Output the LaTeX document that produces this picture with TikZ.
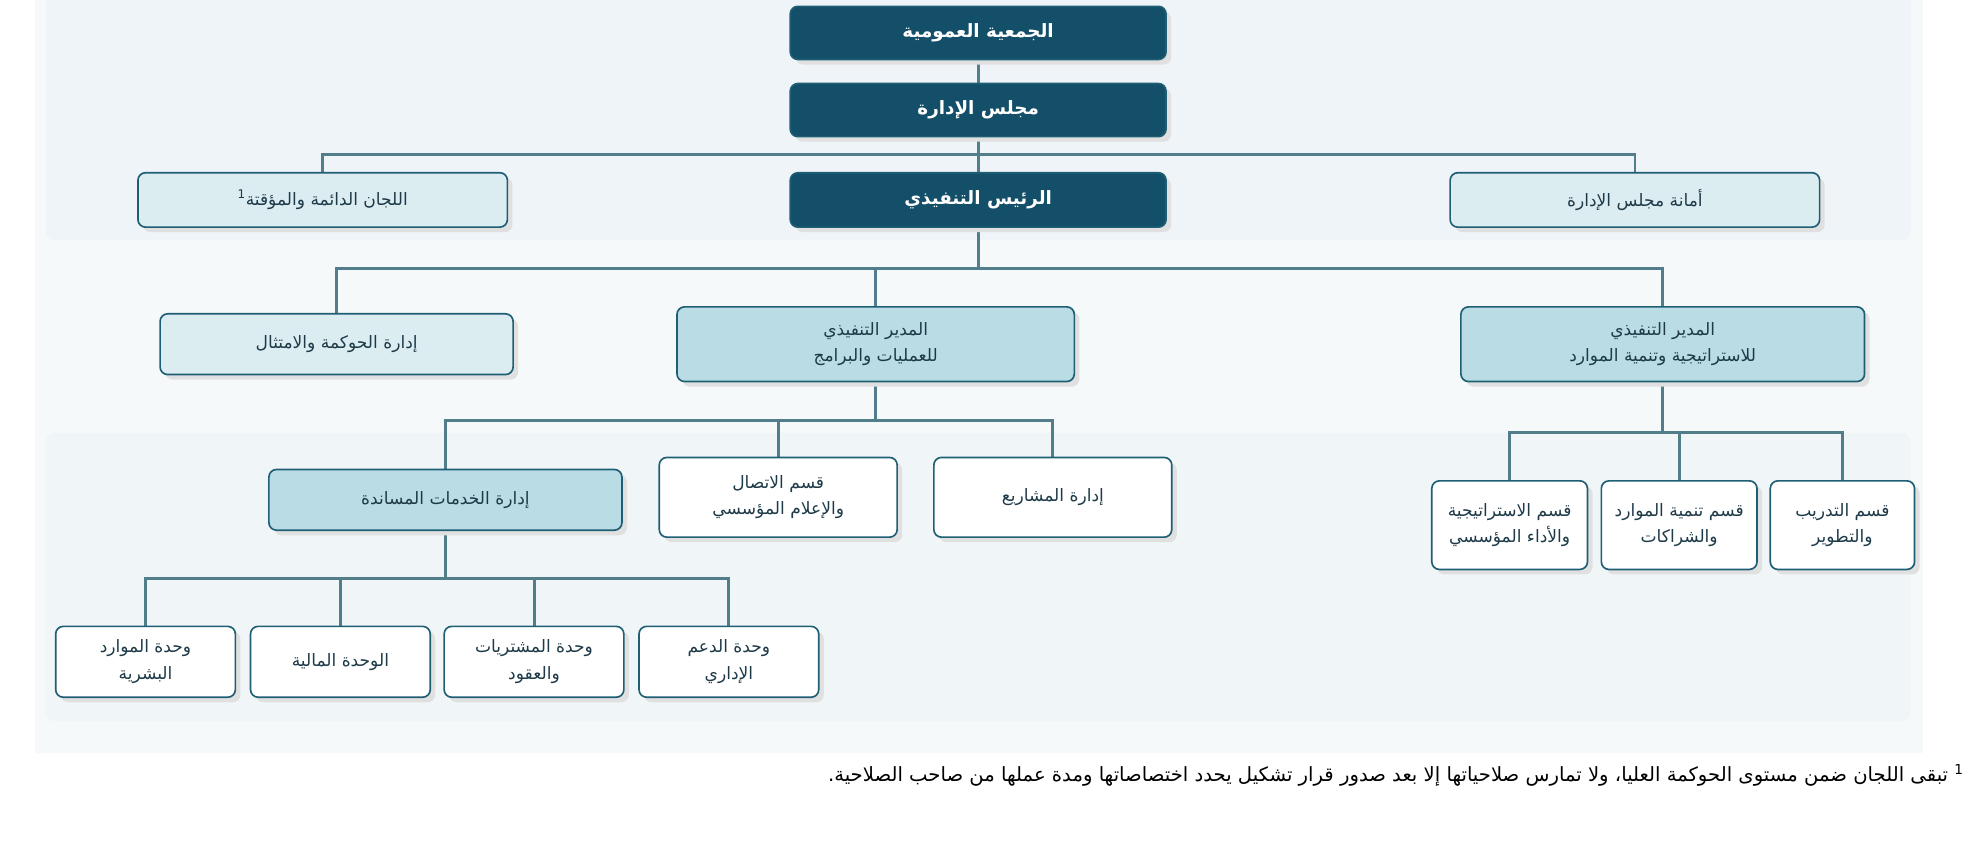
\documentclass[tikz,border=0pt]{standalone}
\usepackage{fontspec}
\newfontfamily\arfont[Script=Arabic]{DejaVu Sans}
\TeXXeTstate=1
\newcommand{\AR}[1]{{\arfont\beginR #1\endR}}
\definecolor{dark}{HTML}{134F68}
\definecolor{light}{HTML}{DCEDF2}
\definecolor{mid}{HTML}{B9DCE5}
\definecolor{edge}{HTML}{1F5F75}
\definecolor{wire}{HTML}{527E8C}
\definecolor{stripe}{HTML}{1FA88C}
\definecolor{txt}{HTML}{1E3A48}
\definecolor{bgA}{HTML}{F5F9FA}
\definecolor{bgB}{HTML}{EEF4F7}
\definecolor{bgC}{HTML}{F0F6F8}
\begin{document}
\begin{tikzpicture}[x=1pt,y=-1pt,
 box/.style={draw=edge,line width=1.3pt,rounded corners=6pt,font=\fontsize{13.5}{21}\selectfont,text=txt,align=center,inner sep=0pt,
   append after command={
     \pgfextra{\draw[stripe,line width=2.2pt] ([xshift=10pt,yshift=-2pt]\tikzlastnode.north west) -- ([xshift=-10pt,yshift=-2pt]\tikzlastnode.north east);}},
   preaction={fill=black!12,transform canvas={xshift=4pt,yshift=-4pt}}},
 d/.style={box,fill=dark,text=white,font=\bfseries\fontsize{14.5}{18}\selectfont},
 l/.style={box,fill=light},
 m/.style={box,fill=mid},
 w/.style={box,fill=white},
 wire/.style={draw=wire,line width=2.2pt}]
\useasboundingbox (0,0) rectangle (1560,664);
\fill[white] (0,0) rectangle (1560,664);
\fill[bgA] (28,0) rectangle (1520,595);
\fill[bgB,rounded corners=8pt] (36,-10) rectangle (1510,190);
\fill[bgC,rounded corners=8pt] (36,342) rectangle (1510,570);
% connectors
\draw[wire] (773,47) -- (773,66);
\draw[wire] (773,108) -- (773,137);
\draw[wire] (255,137) -- (255,122) -- (1292,122) -- (1292,137);
\draw[wire] (773,180) -- (773,212);
\draw[wire] (266,248) -- (266,212) -- (1314,212) -- (1314,243);
\draw[wire] (692,212) -- (692,243);
\draw[wire] (692,302) -- (692,332);
\draw[wire] (352,371) -- (352,332) -- (832,332) -- (832,362);
\draw[wire] (615,332) -- (615,362);
\draw[wire] (1314,302) -- (1314,342);
\draw[wire] (1193,380) -- (1193,342) -- (1456,342) -- (1456,380);
\draw[wire] (1327,342) -- (1327,380);
\draw[wire] (352,419) -- (352,457);
\draw[wire] (115,496) -- (115,457) -- (576,457) -- (576,496);
\draw[wire] (269,457) -- (269,496);
\draw[wire] (422.5,457) -- (422.5,496);
% nodes
\node[d,minimum width=297pt,minimum height=42pt] (ga) at (773,26) {\AR{الجمعية العمومية}};
\node[d,minimum width=297pt,minimum height=42pt] (bd) at (773,87) {\AR{مجلس الإدارة}};
\node[d,minimum width=297pt,minimum height=43pt] (ceo) at (773,158) {\AR{الرئيس التنفيذي}};
\node[l,minimum width=292pt,minimum height=43pt] (com) at (255,158) {\AR{اللجان الدائمة والمؤقتة\textsuperscript{1}}};
\node[l,minimum width=292pt,minimum height=43pt] (sec) at (1292,158) {\AR{أمانة مجلس الإدارة}};
\node[l,minimum width=279pt,minimum height=48pt] (gov) at (266,272) {\AR{إدارة الحوكمة والامتثال}};
\node[m,minimum width=314pt,minimum height=59pt] (coo) at (692,272) {\AR{المدير التنفيذي}\\\AR{للعمليات والبرامج}};
\node[m,minimum width=319pt,minimum height=59pt] (cso) at (1314,272) {\AR{المدير التنفيذي}\\\AR{للاستراتيجية وتنمية الموارد}};
\node[m,minimum width=279pt,minimum height=48pt] (sup) at (352,395) {\AR{إدارة الخدمات المساندة}};
\node[w,minimum width=188pt,minimum height=63pt] (cm) at (615,393) {\AR{قسم الاتصال}\\\AR{والإعلام المؤسسي}};
\node[w,minimum width=188pt,minimum height=63pt] (pr) at (832,393) {\AR{إدارة المشاريع}};
\node[w,minimum width=123pt,minimum height=70pt] (st) at (1193,415) {\AR{قسم الاستراتيجية}\\\AR{والأداء المؤسسي}};
\node[w,minimum width=123pt,minimum height=70pt] (rd) at (1327,415) {\AR{قسم تنمية الموارد}\\\AR{والشراكات}};
\node[w,minimum width=114pt,minimum height=70pt] (tr) at (1456,415) {\AR{قسم التدريب}\\\AR{والتطوير}};
\node[w,minimum width=142pt,minimum height=56pt] (hr) at (115,523) {\AR{وحدة الموارد}\\\AR{البشرية}};
\node[w,minimum width=142pt,minimum height=56pt] (fi) at (269,523) {\AR{الوحدة المالية}};
\node[w,minimum width=142pt,minimum height=56pt] (pc) at (422,523) {\AR{وحدة المشتريات}\\\AR{والعقود}};
\node[w,minimum width=142pt,minimum height=56pt] (ad) at (576,523) {\AR{وحدة الدعم}\\\AR{الإداري}};
\node[anchor=east,inner sep=0pt,font=\fontsize{15.5}{18}\selectfont] (fn) at (1552,613) {\AR{\textsuperscript{1} تبقى اللجان ضمن مستوى الحوكمة العليا، ولا تمارس صلاحياتها إلا بعد صدور قرار تشكيل يحدد اختصاصاتها ومدة عملها من صاحب الصلاحية.}};
\end{tikzpicture}
\end{document}
